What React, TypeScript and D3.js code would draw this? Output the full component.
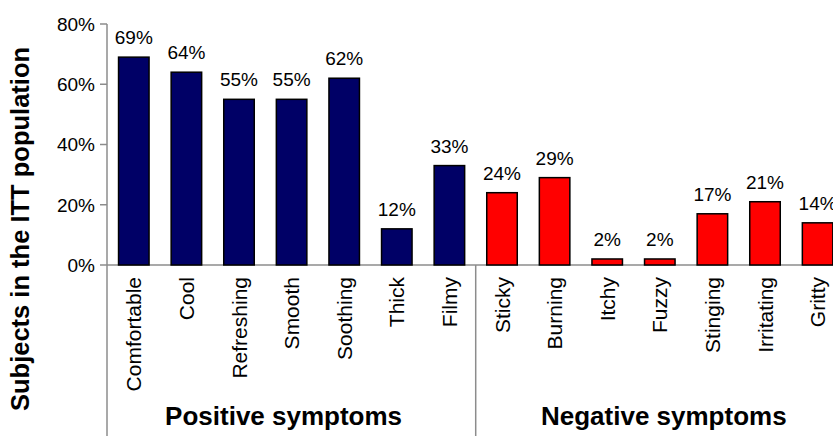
import React from "react";
import * as d3 from "d3";

const categories = [
  "Comfortable", "Cool", "Refreshing", "Smooth", "Soothing", "Thick", "Filmy",
  "Sticky", "Burning", "Itchy", "Fuzzy", "Stinging", "Irritating", "Gritty",
];
const values = [69, 64, 55, 55, 62, 12, 33, 24, 29, 2, 2, 17, 21, 14];
const groups = ["Positive", "Positive", "Positive", "Positive", "Positive", "Positive", "Positive",
  "Negative", "Negative", "Negative", "Negative", "Negative", "Negative", "Negative"];
const yTicks = [0, 20, 40, 60, 80];
const groupLabels = ["Positive symptoms", "Negative symptoms"];

const W = 833;
const H = 436;
const axisX = 107;
const y0 = 265;
const yTop = 24;
const FONT = "Arial, 'Liberation Sans', sans-serif";
const AXIS = "#8c8c8c";

export default function App() {
  const x = d3
    .scaleBand<string>()
    .domain(categories)
    .range([axisX + 0.5, axisX + 0.5 + 14 * 52.6])
    .paddingInner(0.42)
    .paddingOuter(0.21);
  const y = d3.scaleLinear().domain([0, 80]).range([y0, yTop]);
  const bw = x.bandwidth();
  const step = x.step();
  const divX = (x.range()[0] as number) + 7 * step;
  const posCenter = ((x(categories[0]) as number) + (x(categories[6]) as number) + bw) / 2 - 8;
  const negCenter = ((x(categories[7]) as number) + (x(categories[13]) as number) + bw) / 2 + 4;

  return (
    <svg width={W} height={H} style={{ position: "absolute", left: 0, top: 0, background: "#fff" }}>
      {/* Y axis title */}
      <text
        transform={`translate(29,229) rotate(-90)`}
        textAnchor="middle"
        fontFamily={FONT}
        fontWeight="bold"
        fontSize={25.5}
        fill="#000"
      >
        Subjects in the ITT population
      </text>

      {/* Y axis */}
      <line x1={axisX} x2={axisX} y1={yTop} y2={H} stroke={AXIS} strokeWidth={1.5} />
      {yTicks.map((t) => (
        <g key={t}>
          <line x1={100} x2={axisX} y1={y(t)} y2={y(t)} stroke={AXIS} strokeWidth={1.5} />
          <text
            x={95}
            y={y(t)}
            dy="0.36em"
            textAnchor="end"
            fontFamily={FONT}
            fontSize={19}
            fill="#000"
          >
            {t}%
          </text>
        </g>
      ))}

      {/* X axis line */}
      <line x1={axisX} x2={W} y1={y0} y2={y0} stroke={AXIS} strokeWidth={1.5} />
      <line x1={divX} x2={divX} y1={y0} y2={H} stroke={AXIS} strokeWidth={1.5} />

      {/* Bars */}
      {categories.map((c, i) => (
        <g key={c}>
          <rect
            x={x(c)}
            y={y(values[i])}
            width={bw}
            height={y0 - y(values[i])}
            fill={groups[i] === "Positive" ? "#000066" : "#ff0000"}
            stroke="#000"
            strokeWidth={1.5}
          />
          <text
            x={(x(c) as number) + bw / 2}
            y={y(values[i]) - 13}
            textAnchor="middle"
            fontFamily={FONT}
            fontSize={19}
            fill="#000"
          >
            {values[i]}%
          </text>
          <text
            transform={`translate(${(x(c) as number) + bw / 2},277) rotate(-90)`}
            dy="0.36em"
            textAnchor="end"
            fontFamily={FONT}
            fontSize={21}
            fill="#000"
          >
            {c}
          </text>
        </g>
      ))}

      {/* Group labels */}
      <text x={posCenter} y={425} textAnchor="middle" fontFamily={FONT} fontWeight="bold" fontSize={26} fill="#000">
        {groupLabels[0]}
      </text>
      <text x={negCenter} y={425} textAnchor="middle" fontFamily={FONT} fontWeight="bold" fontSize={26} fill="#000">
        {groupLabels[1]}
      </text>
    </svg>
  );
}
